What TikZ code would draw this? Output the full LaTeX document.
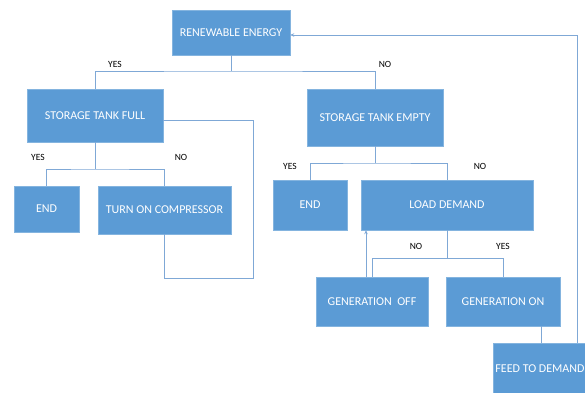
\documentclass[tikz,border=0pt]{standalone}
\usepackage{fontspec}
\setmainfont{Carlito}
\usetikzlibrary{arrows.meta, positioning, calc}
\definecolor{boxblue}{HTML}{5B9BD5}
\definecolor{lineblue}{HTML}{7FA8D6}

\begin{document}
\begin{tikzpicture}[
  x=1pt, y=-1pt,
  box/.style={rectangle, fill=boxblue, draw=boxblue!75!white, text=white,
              inner sep=0pt, align=center, font=\fontsize{12}{14}\selectfont},
  link/.style={draw=lineblue, line width=0.9pt},
  arrow/.style={link, -{Stealth[length=4pt, width=3.5pt]}},
  tag/.style={font=\fontsize{9.5}{11}\selectfont, text=black}
]
  \useasboundingbox (0,0) rectangle (585,392);
  \clip (0,0) rectangle (585,392);

  \node[box, minimum width=118pt, minimum height=45pt] (re)   at (231,32.5)  {RENEWABLE ENERGY};
  \node[box, minimum width=136pt, minimum height=53pt] (stf)  at (95,115.5)  {STORAGE TANK FULL};
  \node[box, minimum width=136pt, minimum height=57pt] (ste)  at (375,117.5) {STORAGE TANK EMPTY};
  \node[box, minimum width=65pt,  minimum height=46pt] (endA) at (46.5,209)  {END};
  \node[box, minimum width=133pt, minimum height=48pt] (toc)  at (164.5,210) {TURN ON COMPRESSOR};
  \node[box, minimum width=74pt,  minimum height=50pt] (endB) at (310,205)   {END};
  \node[box, minimum width=172pt, minimum height=50pt] (ld)   at (447,205)   {LOAD DEMAND};
  \node[box, minimum width=112pt, minimum height=49pt] (goff) at (372,301.5) {GENERATION\ \ OFF};
  \node[box, minimum width=114pt, minimum height=49pt] (gon)  at (503,301.5) {GENERATION ON};
  \node[box, minimum width=94pt,  minimum height=52pt] (ftd)  at (540,369)   {FEED TO DEMAND};

  % branch points
  \coordinate (reJ)  at (231,71);
  \coordinate (stfJ) at (95,169);
  \coordinate (steJ) at (375,163);
  \coordinate (ldJ)  at (447,258);
  \coordinate (loop) at (253,278);

  \draw[link] (re.south) -- (reJ);
  \draw[link] (stf.north) |- (reJ) -| (ste.north);
  \draw[link] (stf.south) -- (stfJ);
  \draw[link] (endA.north) |- (stfJ) -| (toc.north);
  \draw[link] (ste.south) -- (steJ);
  \draw[link] (endB.north) |- (steJ) -| (ld.north);
  \draw[link] (ld.south) -- (ldJ);
  \draw[link] (goff.north) |- (ldJ) -| (gon.north);

  \draw[link] (toc.south) |- (loop) |- ([yshift=-5pt]stf.east);
  \draw[arrow] ([xshift=-6pt]goff.north) -- ([xshift=-6pt]goff.north |- ld.south);
  \draw[link] ([xshift=38pt]gon.south) -- ([xshift=38pt]gon.south |- ftd.north);
  \draw[arrow] ([xshift=-10pt]ftd.north east) |- ([yshift=-2.5pt]re.east);

  \node[tag] (yA) at (115,64)  {YES};
  \node[tag] (nA) at (385,64)  {NO};
  \node[tag] (yB) at (38,157)  {YES};
  \node[tag] (nB) at (181,157) {NO};
  \node[tag] (yC) at (290,166) {YES};
  \node[tag] (nC) at (480,166) {NO};
  \node[tag] (nD) at (416,246) {NO};
  \node[tag] (yD) at (503,246) {YES};
\end{tikzpicture}
\end{document}
